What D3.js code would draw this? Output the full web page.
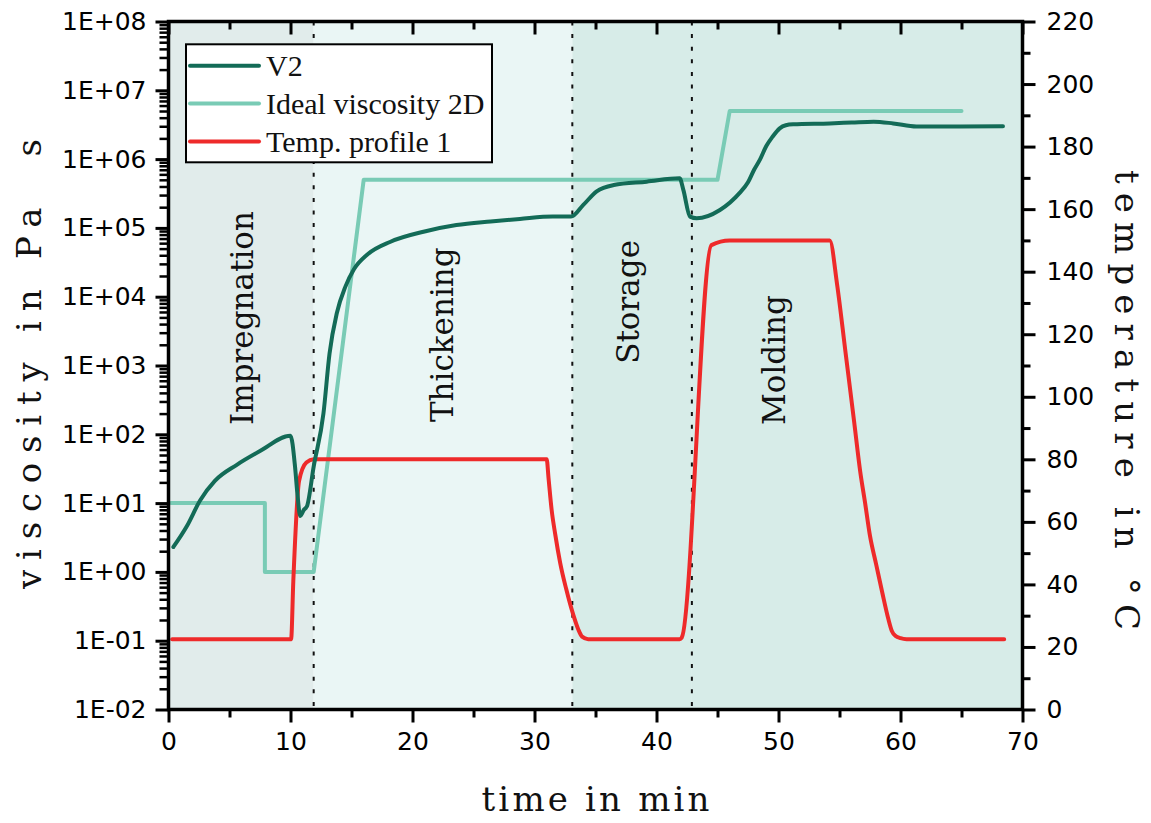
<!DOCTYPE html>
<html>
<head>
<meta charset="utf-8">
<script src="https://cdn.jsdelivr.net/npm/d3@7"></script>
<style>
  html, body { margin: 0; padding: 0; background: #ffffff; }
  svg { display: block; }
</style>
</head>
<body>
<svg id="chart" width="1151" height="823"></svg>
<script>
// Measured viscosity V2 (Pa s) over time (min)
const timeV2 = [0.4, 1.5, 2.6, 3.8, 5.6, 7.5, 10.0, 10.37, 10.56, 10.8, 11.1, 11.35, 11.9, 12.7, 13.2, 13.8, 14.5, 15.2, 16.3, 18.2, 20.9, 23.6, 26.4, 28.8, 31.5, 33.0, 34.0, 35.1, 36.5, 39.2, 41.9, 42.2, 42.75, 43.3, 45.2, 46.8, 47.5, 48.0, 48.5, 49.0, 49.5, 50.1, 50.6, 51.2, 54.2, 56.0, 57.8, 59.4, 61.3, 63.2, 68.4];
const viscV2 = [2.3, 4.6, 11, 21, 36, 57, 95, 34, 14, 6.5, 8, 9, 34, 200, 1500, 5800, 14000, 25000, 41000, 63000, 88000, 110000, 124000, 135000, 146000, 146000, 216000, 340000, 420000, 470000, 525000, 357000, 146000, 138000, 182000, 320000, 460000, 700000, 1000000, 1550000, 2100000, 2800000, 3100000, 3200000, 3300000, 3400000, 3500000, 3300000, 2970000, 2970000, 3000000];

// Ideal viscosity course 2D (Pa s)
const timeIdeal = [0.2, 7.9, 7.9, 11.9, 16.0, 45.0, 46.0, 65.0];
const viscIdeal = [10, 10, 1, 1, 5e5, 5e5, 5e6, 5e6];

// Temperature profile 1 (°C)
const timeTemp = [0.3, 10.05, 10.23, 10.7, 11.3, 11.9, 31.0, 31.15, 31.4, 31.7, 32.1, 32.6, 33.2, 33.6, 33.9, 34.4, 41.9, 42.07, 44.5, 46.0, 54.2, 54.8, 55.5, 56.2, 56.7, 57.1, 57.5, 58.0, 58.5, 59.0, 59.3, 59.6, 60.0, 60.5, 68.5];
const tempProfile = [22.5, 22.5, 41, 73, 79, 80, 80, 74, 64, 56, 47, 38.5, 30, 25.5, 23.3, 22.5, 22.5, 23, 148.5, 150, 150, 136, 114, 92, 76, 66, 55.5, 46.5, 37.5, 29, 25, 23.5, 22.8, 22.5, 22.5];

// Process phases: boundaries (min), labels and label anchors (time, viscosity)
const phaseBounds = [0, 11.9, 33.1, 42.9, 70];
const phaseNames = ["Impregnation", "Thickening", "Storage", "Molding"];
const phaseLabelTime = [6.9, 23.3, 38.6, 50.5];
const phaseLabelVisc = [4.9e3, 2.8e3, 8.4e3, 1.2e3];
const phaseFills = ["#e1eceb", "#eaf6f5", "#d7ece8", "#d7ece8"];

// Axis ticks
const timeTicks = [0, 10, 20, 30, 40, 50, 60, 70];
const timeMinor = [5, 15, 25, 35, 45, 55, 65];
const viscTicks = [1e-2, 1e-1, 1e0, 1e1, 1e2, 1e3, 1e4, 1e5, 1e6, 1e7, 1e8];
const viscTickLabels = ["1E-02", "1E-01", "1E+00", "1E+01", "1E+02", "1E+03", "1E+04", "1E+05", "1E+06", "1E+07", "1E+08"];
const tempTicks = [0, 20, 40, 60, 80, 100, 120, 140, 160, 180, 200, 220];
const tempMinor = [10, 30, 50, 70, 90, 110, 130, 150, 170, 190, 210];

const seriesNames = ["V2", "Ideal viscosity 2D", "Temp. profile 1"];
const seriesColors = ["#136b57", "#79cbb5", "#ee2a2a"];

const svg = d3.select("#chart");
const L = 168.5, R = 1022.5, T = 21.5, B = 709.5;

const x = d3.scaleLinear().domain([0, 70]).range([L, R]);
const yV = d3.scaleLog().domain([1e-2, 1e8]).range([B, T]);
const yT = d3.scaleLinear().domain([0, 220]).range([B, T]);

const serif = "'DejaVu Serif', serif";
const serifNarrow = "'Liberation Serif', 'Times New Roman', serif";
const sans = "'DejaVu Sans', Verdana, sans-serif";

// phase backgrounds
svg.append("g").selectAll("rect")
  .data(phaseNames)
  .join("rect")
  .attr("x", (d, i) => x(phaseBounds[i]))
  .attr("width", (d, i) => x(phaseBounds[i + 1]) - x(phaseBounds[i]))
  .attr("y", T)
  .attr("height", B - T)
  .attr("fill", (d, i) => phaseFills[i]);

// dotted phase separators
svg.append("g").selectAll("line")
  .data(phaseBounds.slice(1, -1))
  .join("line")
  .attr("x1", d => x(d)).attr("x2", d => x(d))
  .attr("y1", T).attr("y2", B)
  .attr("stroke", "#111")
  .attr("stroke-width", 2)
  .attr("stroke-dasharray", "4,8.6");

// phase labels
svg.append("g").selectAll("text")
  .data(phaseNames)
  .join("text")
  .attr("transform", (d, i) => `translate(${x(phaseLabelTime[i])},${yV(phaseLabelVisc[i])}) rotate(-90)`)
  .attr("text-anchor", "middle")
  .attr("font-family", serif)
  .attr("font-size", 31)
  .attr("fill", "#111")
  .text(d => d);

// series lines
const lineV = d3.line().x(d => x(d[0])).y(d => yV(d[1]));
const lineT = d3.line().x(d => x(d[0])).y(d => yT(d[1]));

svg.append("path")
  .datum(timeIdeal.map((t, i) => [t, viscIdeal[i]]))
  .attr("d", lineV.curve(d3.curveLinear))
  .attr("fill", "none")
  .attr("stroke", seriesColors[1])
  .attr("stroke-width", 4)
  .attr("stroke-linecap", "round")
  .attr("stroke-linejoin", "round");

svg.append("path")
  .datum(timeTemp.map((t, i) => [t, tempProfile[i]]))
  .attr("d", lineT.curve(d3.curveMonotoneX))
  .attr("fill", "none")
  .attr("stroke", seriesColors[2])
  .attr("stroke-width", 4)
  .attr("stroke-linecap", "round")
  .attr("stroke-linejoin", "round");

svg.append("path")
  .datum(timeV2.map((t, i) => [t, viscV2[i]]))
  .attr("d", d3.line().x(d => x(d[0])).y(d => yV(d[1])).curve(d3.curveMonotoneX))
  .attr("fill", "none")
  .attr("stroke", seriesColors[0])
  .attr("stroke-width", 4)
  .attr("stroke-linecap", "round")
  .attr("stroke-linejoin", "round");

// axes
function styleAxis(g, width) {
  g.select(".domain").remove();
  g.selectAll(".tick line").attr("stroke", "#000").attr("stroke-width", width);
  g.selectAll(".tick text").attr("font-family", sans).attr("font-size", 25).attr("fill", "#000");
}

const viscMinor = [];
viscTicks.slice(0, -1).forEach(v => { for (let k = 2; k <= 9; k++) viscMinor.push(v * k); });

// left (viscosity, log)
svg.append("g").attr("transform", `translate(${L},0)`)
  .call(d3.axisLeft(yV).tickValues(viscMinor).tickSize(9).tickFormat(""))
  .call(g => styleAxis(g, 2.5));
svg.append("g").attr("transform", `translate(${L},0)`)
  .call(d3.axisLeft(yV).tickValues(viscTicks).tickSize(13).tickPadding(9)
    .tickFormat((d, i) => viscTickLabels[i]))
  .call(g => styleAxis(g, 3));

// right (temperature)
svg.append("g").attr("transform", `translate(${R},0)`)
  .call(d3.axisRight(yT).tickValues(tempMinor).tickSize(8).tickFormat(""))
  .call(g => styleAxis(g, 3));
svg.append("g").attr("transform", `translate(${R},0)`)
  .call(d3.axisRight(yT).tickValues(tempTicks).tickSize(13).tickPadding(11).tickFormat(d3.format("d")))
  .call(g => styleAxis(g, 3));

// bottom (time)
svg.append("g").attr("transform", `translate(0,${B})`)
  .call(d3.axisBottom(x).tickValues(timeMinor).tickSize(8).tickFormat(""))
  .call(g => styleAxis(g, 3));
svg.append("g").attr("transform", `translate(0,${B})`)
  .call(d3.axisBottom(x).tickValues(timeTicks).tickSize(13).tickPadding(10).tickFormat(d3.format("d")))
  .call(g => styleAxis(g, 3));

// top mirror ticks (inward)
svg.append("g").attr("transform", `translate(0,${T})`)
  .call(d3.axisBottom(x).tickValues(timeMinor).tickSize(8).tickFormat(""))
  .call(g => styleAxis(g, 3));
svg.append("g").attr("transform", `translate(0,${T})`)
  .call(d3.axisBottom(x).tickValues(timeTicks).tickSize(13).tickFormat(""))
  .call(g => styleAxis(g, 3));

// frame
svg.append("rect")
  .attr("x", L).attr("y", T).attr("width", R - L).attr("height", B - T)
  .attr("fill", "none").attr("stroke", "#000").attr("stroke-width", 3.5);

// axis titles
svg.append("text")
  .attr("x", (L + R) / 2).attr("y", 811)
  .attr("text-anchor", "middle")
  .attr("font-family", serif).attr("font-size", 34).attr("fill", "#111")
  .attr("textLength", 228).attr("lengthAdjust", "spacing")
  .text("time in min");

svg.append("text")
  .attr("transform", `translate(41,364) rotate(-90)`)
  .attr("text-anchor", "middle")
  .attr("font-family", serif).attr("font-size", 34).attr("fill", "#111")
  .attr("textLength", 450).attr("lengthAdjust", "spacing")
  .text("viscosity in Pa\u00a0\u00a0s");

svg.append("text")
  .attr("transform", `translate(1115,400) rotate(90)`)
  .attr("text-anchor", "middle")
  .attr("font-family", serif).attr("font-size", 34).attr("fill", "#111")
  .attr("textLength", 460).attr("lengthAdjust", "spacing")
  .text("temperature in °C");

// legend
const lg = svg.append("g");
lg.append("rect")
  .attr("x", 186).attr("y", 44.3).attr("width", 306).attr("height", 118)
  .attr("fill", "#ffffff").attr("stroke", "#000").attr("stroke-width", 2);
const rows = lg.selectAll("g.row").data(seriesNames).join("g")
  .attr("transform", (d, i) => `translate(0,${65.7 + i * 37.9})`);
rows.append("line")
  .attr("x1", 190).attr("x2", 259)
  .attr("stroke", (d, i) => seriesColors[i])
  .attr("stroke-width", 4)
  .attr("stroke-linecap", "round");
rows.append("text")
  .attr("x", 266).attr("y", 10.5)
  .attr("font-family", serifNarrow).attr("font-size", 30).attr("fill", "#111")
  .text(d => d);
</script>
</body>
</html>
